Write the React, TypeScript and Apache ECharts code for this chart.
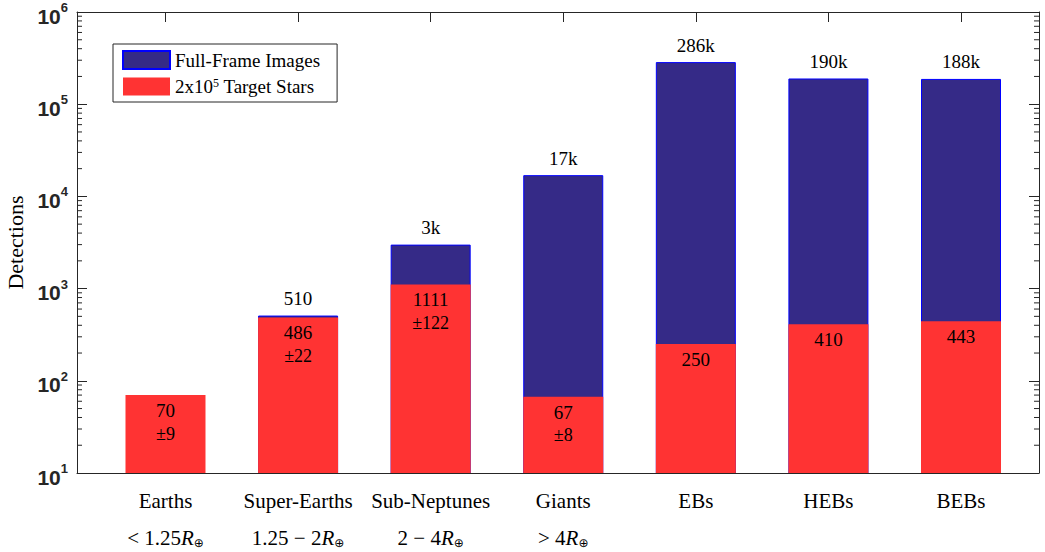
import React, { useEffect, useRef } from 'react';
import * as echarts from 'echarts';

// Detection classes along the horizontal axis
const categories = ['Earths', 'Super-Earths', 'Sub-Neptunes', 'Giants', 'EBs', 'HEBs', 'BEBs'];
// Planet radius range printed beneath each planet class (empty for binaries)
const radiusRanges = ['< 1.25', '1.25 \u2212 2', '2 \u2212 4', '> 4', '', '', ''];

// Expected detections in the full-frame images (no bar for Earths)
const ffiDetections: (number | null)[] = [null, 510, 3000, 17000, 286000, 190000, 188000];
// Expected detections among the 2x10^5 target stars, with 1-sigma uncertainty
const targetStarDetections = [70, 486, 1111, 67, 250, 410, 443];
const targetStarErrors: (number | null)[] = [9, 22, 122, 8, null, null, null];

// Log-axis range and minor tick layout
const yMin = 10;
const yMax = 1e6;
const minorDecades = [10, 100, 1000, 10000, 100000];
const minorMultipliers = [2, 3, 4, 5, 6, 7, 8, 9];

const FFI_NAME = 'Full-Frame Images';
const TSR_NAME = '2x10^5 Target Stars';

const serif = 'Liberation Serif';
const sans = 'Liberation Sans';
const axisColor = '#262626';

function formatCount(v: number): string {
  return v >= 1000 ? `${Math.round(v / 1000)}k` : `${v}`;
}

export default function App() {
  const ref = useRef<HTMLDivElement>(null);

  useEffect(() => {
    if (!ref.current) return;
    const chart = echarts.init(ref.current, null, { renderer: 'svg' });

    const minorTicks: number[][] = [];
    minorDecades.forEach((d) => minorMultipliers.forEach((m) => minorTicks.push([0, d * m])));

    const logAxisBase = {
      type: 'log' as const,
      logBase: 10,
      min: yMin,
      max: yMax,
      splitLine: { show: false },
      minorTick: { show: false },
    };

    const option: any = {
      animation: false,
      backgroundColor: '#ffffff',
      textStyle: { fontFamily: serif },
      legend: {
        orient: 'vertical',
        left: 113,
        top: 44,
        padding: [6, 17, 6, 9],
        itemWidth: 47,
        itemHeight: 18,
        itemGap: 7,
        icon: 'rect',
        borderColor: axisColor,
        borderWidth: 1,
        backgroundColor: '#ffffff',
        data: [FFI_NAME, TSR_NAME],
        formatter: (name: string) =>
          name === TSR_NAME ? '2x10{sup|5} Target Stars' : name,
        textStyle: {
          fontFamily: serif,
          fontSize: 19,
          color: '#000',
          rich: {
            sup: { fontFamily: serif, fontSize: 12, color: '#000', verticalAlign: 'top', lineHeight: 12 },
          },
        },
      },
      grid: [
        // bars
        { left: 99.2, right: 17.7, top: 12, bottom: 79, outerBoundsMode: 'none', containLabel: false },
        // axes box
        { left: 77, right: 6, top: 12, bottom: 79, outerBoundsMode: 'none', containLabel: false },
      ],
      xAxis: [
        {
          type: 'category',
          gridIndex: 0,
          data: categories,
          position: 'bottom',
          axisLine: { show: false },
          axisTick: { show: false },
          axisLabel: {
            interval: 0,
            margin: 9,
            formatter: (value: string, idx: number) => {
              const range = radiusRanges[idx];
              return range
                ? `{n|${value}}\n{m|${range}}{r|R}{o|\u2295}`
                : `{n|${value}}\n{m| }`;
            },
            rich: {
              n: { fontFamily: serif, fontSize: 21, lineHeight: 37, color: '#000' },
              m: { fontFamily: serif, fontSize: 21, lineHeight: 37, color: '#000' },
              r: { fontFamily: serif, fontSize: 21, lineHeight: 37, fontStyle: 'italic', color: '#000' },
              o: {
                fontFamily: 'DejaVu Sans',
                fontSize: 12,
                lineHeight: 12,
                verticalAlign: 'bottom',
                padding: [0, 0, 7, 0],
                color: '#000',
              },
            },
          },
        },
        {
          type: 'category',
          gridIndex: 0,
          data: categories,
          position: 'top',
          axisLine: { show: false },
          axisLabel: { show: false },
          axisTick: {
            show: true,
            inside: true,
            length: 10,
            alignWithLabel: true,
            lineStyle: { color: axisColor, width: 1 },
          },
        },
        {
          type: 'value',
          gridIndex: 1,
          min: 0,
          max: 1,
          position: 'bottom',
          z: 5,
          axisLine: { show: true, onZero: false, lineStyle: { color: axisColor, width: 1 } },
          axisTick: { show: false },
          axisLabel: { show: false },
          splitLine: { show: false },
        },
        {
          type: 'value',
          gridIndex: 1,
          min: 0,
          max: 1,
          position: 'top',
          z: 5,
          axisLine: { show: true, onZero: false, lineStyle: { color: axisColor, width: 1 } },
          axisTick: { show: false },
          axisLabel: { show: false },
          splitLine: { show: false },
        },
      ],
      yAxis: [
        {
          ...logAxisBase,
          gridIndex: 0,
          show: false,
        },
        {
          ...logAxisBase,
          gridIndex: 1,
          position: 'left',
          z: 5,
          name: 'Detections',
          nameLocation: 'middle',
          nameRotate: 90,
          nameGap: 46,
          nameTextStyle: { fontFamily: serif, fontSize: 22, color: '#000' },
          axisLine: { show: true, onZero: false, lineStyle: { color: axisColor, width: 1 } },
          axisTick: { show: true, inside: true, length: 10, lineStyle: { color: axisColor, width: 1 } },
          axisLabel: {
            margin: 9,
            padding: [8, 0, 0, 0],
            formatter: (v: number) => `{b|10}{s|${Math.round(Math.log10(v))}}`,
            rich: {
              b: {
                fontFamily: sans,
                fontWeight: 'bold',
                fontSize: 21,
                lineHeight: 30,
                color: axisColor,
              },
              s: {
                fontFamily: sans,
                fontWeight: 'bold',
                fontSize: 13,
                lineHeight: 13,
                verticalAlign: 'top',
                color: axisColor,
              },
            },
          },
        },
        {
          ...logAxisBase,
          gridIndex: 1,
          position: 'right',
          z: 5,
          axisLine: { show: true, onZero: false, lineStyle: { color: axisColor, width: 1 } },
          axisTick: { show: true, inside: true, length: 10, lineStyle: { color: axisColor, width: 1 } },
          axisLabel: { show: false },
        },
      ],
      series: [
        {
          name: FFI_NAME,
          type: 'bar',
          xAxisIndex: 0,
          yAxisIndex: 0,
          barWidth: 80,
          barGap: '-100%',
          data: ffiDetections.map((v) => (v == null ? '-' : v)),
          itemStyle: { color: '#352a87', borderColor: '#0000ff', borderWidth: 1 },
          label: {
            show: true,
            position: 'top',
            distance: 6,
            fontFamily: serif,
            fontSize: 19,
            lineHeight: 22,
            color: '#000',
            formatter: (p: any) => formatCount(p.value),
          },
        },
        {
          name: TSR_NAME,
          type: 'bar',
          xAxisIndex: 0,
          yAxisIndex: 0,
          barWidth: 80,
          barGap: '-100%',
          data: targetStarDetections,
          itemStyle: { color: '#ff3333' },
          label: {
            show: true,
            position: 'insideTop',
            distance: 4,
            color: '#000',
            formatter: (p: any) => {
              const err = targetStarErrors[p.dataIndex];
              return err != null ? `{v|${p.value}}\n{e|\u00b1${err}}` : `{v|${p.value}}`;
            },
            rich: {
              v: { fontFamily: serif, fontSize: 19, lineHeight: 23, color: '#000' },
              e: { fontFamily: serif, fontSize: 18, lineHeight: 23, color: '#000' },
            },
          },
        },
        {
          // minor log ticks on both vertical edges of the box
          type: 'custom',
          xAxisIndex: 2,
          yAxisIndex: 1,
          z: 6,
          silent: true,
          clip: false,
          data: minorTicks,
          renderItem: (_params: any, api: any) => {
            const v = api.value(1);
            const l = api.coord([0, v]);
            const r = api.coord([1, v]);
            const style = { stroke: axisColor, lineWidth: 1 };
            return {
              type: 'group',
              children: [
                { type: 'line', shape: { x1: l[0], y1: l[1], x2: l[0] + 5, y2: l[1] }, style },
                { type: 'line', shape: { x1: r[0] - 5, y1: r[1], x2: r[0], y2: r[1] }, style },
              ],
            };
          },
        },
      ],
    };

    chart.setOption(option);
    return () => chart.dispose();
  }, []);

  return (
    <div
      ref={ref}
      style={{ position: 'absolute', left: 0, top: 0, width: 1045, height: 552, background: '#ffffff' }}
    />
  );
}
